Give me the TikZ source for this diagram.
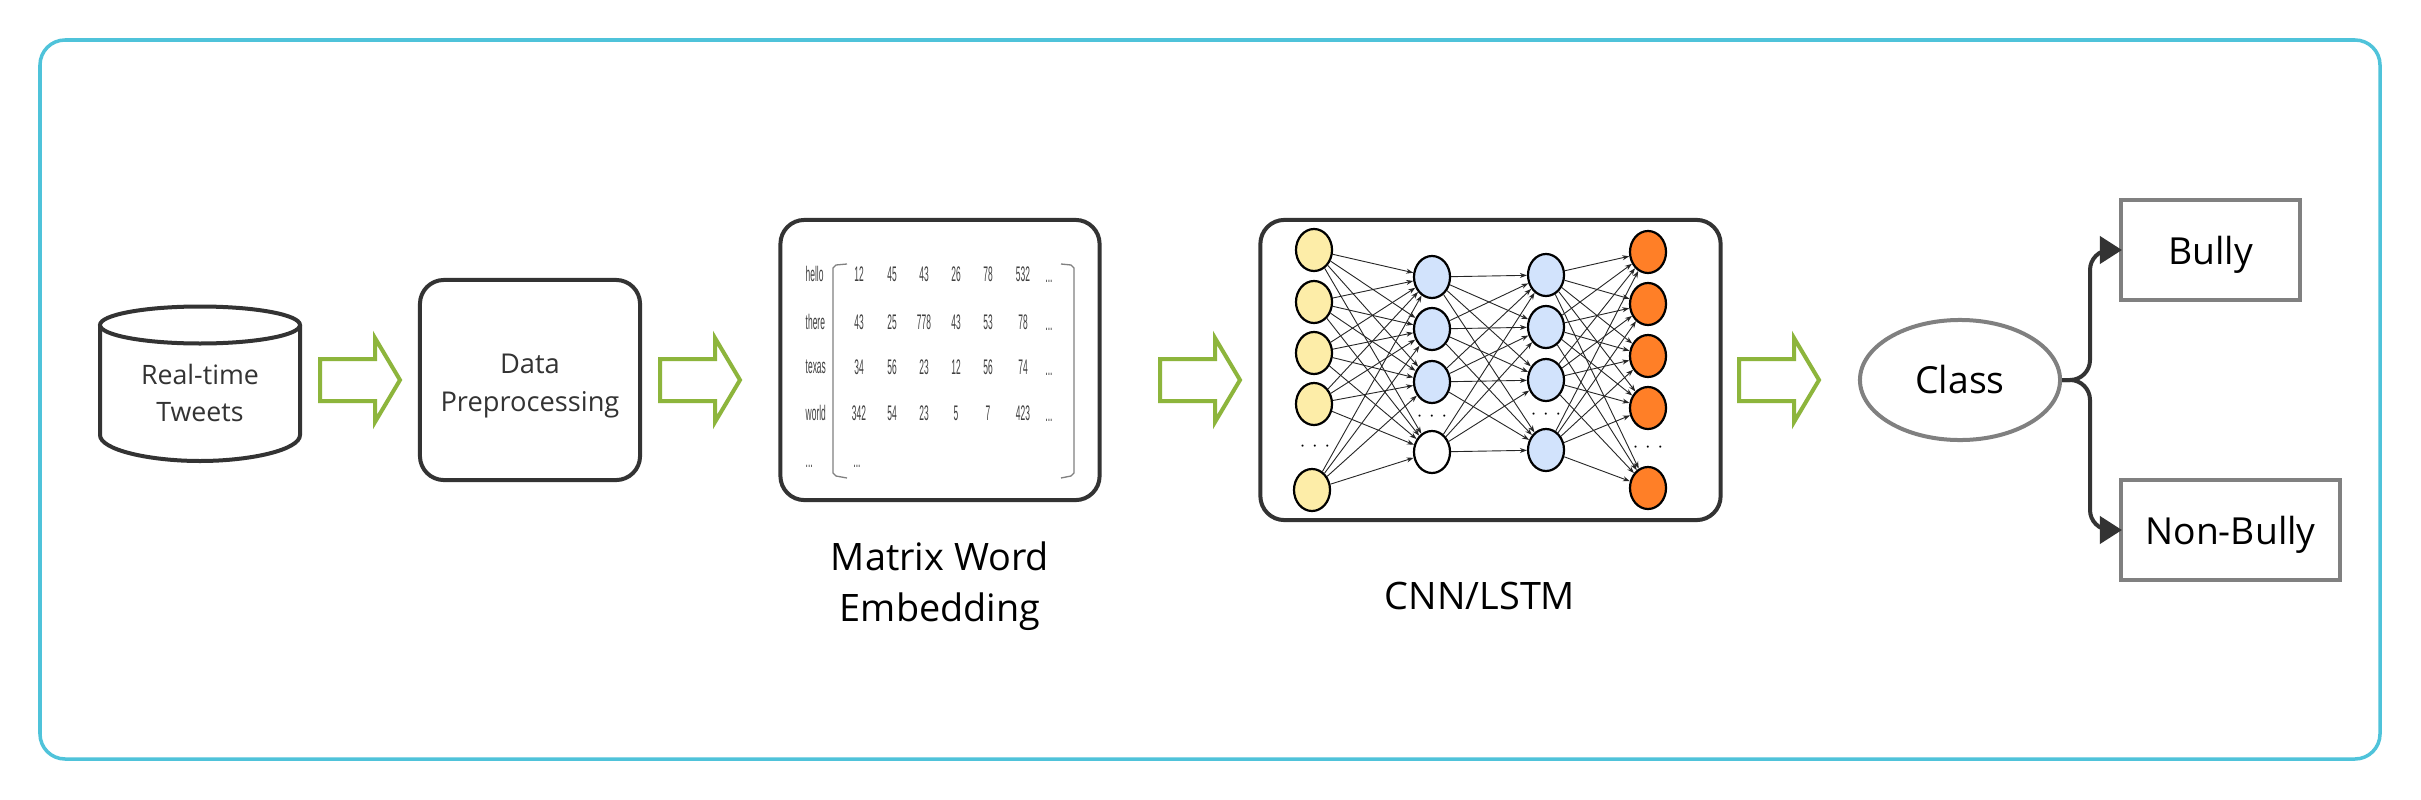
\documentclass[tikz,border=0pt]{standalone}
\usepackage{graphicx}
\usepackage{fontspec}
\setmainfont{Open Sans}
\newfontfamily\cellfont{Liberation Sans}
\usetikzlibrary{shapes.geometric,arrows.meta}
\definecolor{frameblue}{HTML}{4FC3DA}
\definecolor{arrowgreen}{HTML}{8DB53C}
\definecolor{darkline}{HTML}{333333}
\definecolor{greyline}{HTML}{808080}
\definecolor{inyellow}{HTML}{FDEDA8}
\definecolor{hidblue}{HTML}{D2E3FC}
\definecolor{outorange}{HTML}{FF7F27}
\tikzset{
  outerframe/.style={draw=frameblue,line width=0.035cm,rounded corners=0.25cm,fill=white},
  blockarrow/.style={draw=arrowgreen,line width=0.04cm,line join=miter,fill=white},
  roundbox/.style={draw=darkline,line width=0.04cm,rounded corners=0.24cm,fill=white,inner sep=0pt,align=center,text=darkline,font=\fontsize{7.75pt}{10.7pt}\selectfont},
  smalltext/.style={align=center,text=darkline,inner sep=0pt,font=\fontsize{7.6pt}{10.7pt}\selectfont},
  cylline/.style={draw=darkline,line width=0.04cm},
  caption/.style={align=center,text=black,inner sep=0pt,font=\fontsize{10.75pt}{14.5pt}\selectfont},
  greybox/.style={draw=greyline,line width=0.04cm,inner sep=0pt,font=\fontsize{10.6pt}{12pt}\selectfont,text=black},
  classnode/.style={draw=greyline,line width=0.04cm,ellipse,inner sep=0pt,minimum width=2cm,minimum height=1.2cm,font=\fontsize{10.6pt}{12pt}\selectfont,text=black},
  branch/.style={draw=darkline,line width=0.04cm,rounded corners=0.2cm,-{Triangle[length=0.22cm,width=0.27cm]},shorten >=-0.03cm},
  cell/.style={inner sep=0pt,text=black!75,font=\cellfont\fontsize{6pt}{7pt}\selectfont},
  bracketline/.style={draw=black!50,line width=0.013cm},
  neuron/.style={ellipse,draw=black,line width=0.022cm,minimum width=0.36cm,minimum height=0.42cm,inner sep=0pt},
  synapse/.style={draw=black!85,line width=0.009cm,-{Stealth[length=0.07cm,width=0.05cm]}},
  nndots/.style={inner sep=0pt,text=black,font=\fontsize{3.8pt}{5pt}\selectfont},
}
\newcommand{\greenarrow}[1]{\draw[blockarrow] (#1,359) -- ++(55,0) -- ++(0,-21) -- ++(25,42) -- ++(-25,42) -- ++(0,-21) -- ++(-55,0) -- cycle;}
\begin{document}
\begin{tikzpicture}[x=0.01cm,y=-0.01cm]
\useasboundingbox (0,0) rectangle (2421,800);
\fill[white] (0,0) rectangle (2421,800);
\draw[outerframe] (40,40) rectangle (2380,759);

% database
\draw[cylline,fill=white] (100,325) -- (100,435) .. controls (100,450) and (150,461) .. (200,461) .. controls (250,461) and (300,450) .. (300,435) -- (300,325);
\draw[cylline,fill=white] (200,325) ellipse [x radius=100,y radius=18.5];
\node[smalltext] (tweets) at (200,393) {Real-time\\Tweets};

\greenarrow{320}
\node[roundbox,minimum width=2.2cm,minimum height=2cm] (prep) at (530,380) {\rule{0pt}{9pt}Data\\Preprocessing};
\greenarrow{660}

% matrix
\node[roundbox,minimum width=3.19cm,minimum height=2.8cm] (matbox) at (940,360) {};
\foreach \w/\y [count=\i] in {hello/274,there/322,texas/367,world/413} {
  \node[cell,anchor=west] (lab\i) at (805,\y) {\scalebox{.4}[1]{\w}};
}
\node[cell,anchor=west] (lab5) at (805,466) {\scalebox{.4}[1]{...}};
\foreach \vals/\y [count=\r] in {{12,45,43,26,78,532}/274,{43,25,778,43,53,78}/322,{34,56,23,12,56,74}/367,{342,54,23,5,7,423}/413} {
  \foreach \v [count=\c] in \vals {
    \pgfmathsetmacro{\xx}{{859,892,924,956,988,1023}[\c-1]}
    \node[cell] (m\r-\c) at (\xx,\y) {\scalebox{.4}[1]{\v}};
  }
  \node[cell] (d\r) at (1049,\y+7) {\scalebox{.4}[1]{...}};
}
\node[cell] (d5) at (857,466) {\scalebox{.4}[1]{...}};
\draw[bracketline] (847,264) -- (836,265) -- (833,268) -- (833,473) -- (836,476) -- (847,478);
\draw[bracketline] (1061,264) -- (1071,265) -- (1074,268) -- (1074,473) -- (1071,476) -- (1061,478);
\node[caption] (matcap) at (940,586) {Matrix Word\\Embedding};

\greenarrow{1160}

% network
\node[roundbox,minimum width=4.6cm,minimum height=3cm] (nnbox) at (1490.5,370) {};
\foreach \x/\y [count=\i] in {1314/250,1314/302,1314/353,1314/404,1312/490} {\node[neuron,fill=inyellow] (a\i) at (\x,\y) {};}
\foreach \y [count=\i] in {277,329,382} {\node[neuron,fill=hidblue] (b\i) at (1432,\y) {};}
\node[neuron,fill=white] (b4) at (1432,452) {};
\foreach \y [count=\i] in {275,327,380,450} {\node[neuron,fill=hidblue] (c\i) at (1546,\y) {};}
\foreach \y [count=\i] in {252,304,356,408,488} {\node[neuron,fill=outorange] (e\i) at (1648,\y) {};}
\foreach \i in {1,...,5} \foreach \j in {1,...,4} {\draw[synapse] (a\i) -- (b\j);}
\foreach \i in {1,...,4} \foreach \j in {1,...,4} {\draw[synapse] (b\i) -- (c\j);}
\foreach \i in {1,...,4} \foreach \j in {1,...,5} {\draw[synapse] (c\i) -- (e\j);}
\node[nndots] (dotsa) at (1315,446) {$\cdots$};
\node[nndots] (dotsb) at (1432,416) {$\cdots$};
\node[nndots] (dotsc) at (1546,414) {$\cdots$};
\node[nndots] (dotse) at (1648,447) {$\cdots$};
\node[caption] (nncap) at (1480,596) {CNN/LSTM};

\greenarrow{1739}

% output
\node[classnode] (class) at (1960,380) {Class};
\node[greybox,minimum width=1.79cm,minimum height=1cm] (bully) at (2210.5,250) {\rule{0pt}{11pt}Bully};
\node[greybox,minimum width=2.19cm,minimum height=1cm] (nonbully) at (2230.5,530) {\rule{0pt}{11pt}Non-Bully};
\coordinate (fork) at (2090,380);
\draw[branch] (class.east) -- (fork) -- (fork |- bully.west) -- (bully.west);
\draw[branch] (class.east) -- (fork) -- (fork |- nonbully.west) -- (nonbully.west);
\end{tikzpicture}
\end{document}
